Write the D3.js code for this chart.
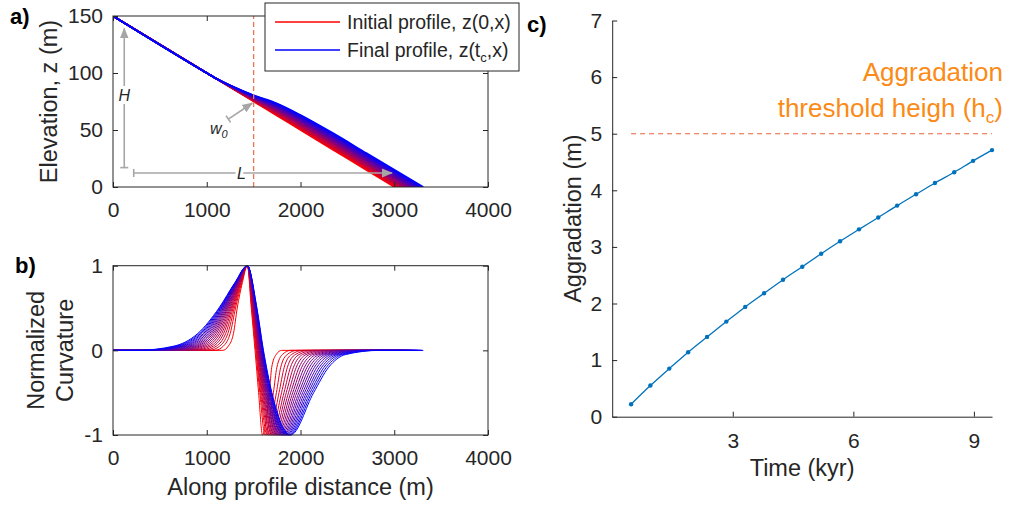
<!DOCTYPE html>
<html>
<head>
<meta charset="utf-8">
<script src="https://cdn.jsdelivr.net/npm/d3@7"></script>
<style>
  body { margin: 0; background: #fff; }
  svg { display: block; font-family: "Liberation Sans", Arial, Helvetica, sans-serif; }
</style>
</head>
<body>
<svg id="fig" width="1009" height="507"></svg>
<script>
// ---- a) elevation profiles, red (initial) -> blue (final)
const profX = [0, 1000, 1100, 1283, 1500, 1750, 2000, 2350, 2706];
const profZ = [
  [150, 100, 95.00, 85.85, 75.00, 62.50, 50.00, 32.50, 14.70],
  [150, 100, 95.01, 85.96, 75.28, 63.04, 50.66, 33.23, 15.45],
  [150, 100, 95.02, 86.07, 75.55, 63.58, 51.32, 33.96, 16.19],
  [150, 100, 95.03, 86.17, 75.83, 64.12, 51.98, 34.69, 16.94],
  [150, 100, 95.04, 86.28, 76.10, 64.66, 52.64, 35.42, 17.68],
  [150, 100, 95.05, 86.39, 76.38, 65.20, 53.30, 36.15, 18.43],
  [150, 100, 95.06, 86.50, 76.65, 65.74, 53.96, 36.88, 19.17],
  [150, 100, 95.07, 86.60, 76.93, 66.28, 54.62, 37.61, 19.92],
  [150, 100, 95.08, 86.71, 77.20, 66.82, 55.28, 38.34, 20.66],
  [150, 100, 95.09, 86.82, 77.48, 67.36, 55.94, 39.07, 21.41],
  [150, 100, 95.10, 86.93, 77.75, 67.90, 56.60, 39.80, 22.15],
  [150, 100, 95.11, 87.03, 78.03, 68.44, 57.26, 40.53, 22.90],
  [150, 100, 95.12, 87.14, 78.30, 68.98, 57.92, 41.26, 23.64],
  [150, 100, 95.13, 87.25, 78.58, 69.52, 58.58, 41.99, 24.39],
  [150, 100, 95.14, 87.36, 78.85, 70.06, 59.24, 42.72, 25.13],
  [150, 100, 95.15, 87.46, 79.13, 70.60, 59.90, 43.45, 25.88],
  [150, 100, 95.16, 87.57, 79.40, 71.14, 60.56, 44.18, 26.62],
  [150, 100, 95.17, 87.68, 79.68, 71.68, 61.22, 44.91, 27.37],
  [150, 100, 95.18, 87.79, 79.95, 72.22, 61.88, 45.64, 28.11],
  [150, 100, 95.19, 87.89, 80.23, 72.76, 62.54, 46.37, 28.86],
  [150, 100, 95.20, 88.00, 80.50, 73.30, 63.20, 47.10, 29.60]
];
const profEnd = [3000, 3016, 3031, 3047, 3062, 3078, 3093, 3109, 3124, 3140, 3155,
                 3171, 3186, 3202, 3217, 3233, 3248, 3264, 3279, 3295, 3310];

// ---- b) normalized curvature: x where each curve passes each level
const curvLevels = [0, 0, 0.05, 0.2, 0.5, 0.8, 1, 0.5, 0, -0.5, -1, -0.5, -0.2, -0.05, 0, 0];
const curvX = [
  [0, 1170, 1230, 1285, 1325, 1380, 1433, 1475, 1515, 1553, 1595, 1668, 1693, 1740, 1800, 3000],
  [0, 1086, 1177, 1250, 1307, 1373, 1433, 1480, 1523, 1566, 1622, 1711, 1748, 1807, 1896, 3028],
  [0, 1024, 1138, 1225, 1294, 1367, 1433, 1485, 1529, 1575, 1643, 1743, 1789, 1857, 1966, 3049],
  [0,  968, 1103, 1202, 1282, 1362, 1433, 1488, 1535, 1584, 1661, 1771, 1826, 1902, 2030, 3068],
  [0,  916, 1070, 1180, 1271, 1358, 1433, 1492, 1540, 1592, 1678, 1798, 1860, 1944, 2090, 3086],
  [0,  867, 1039, 1160, 1261, 1354, 1433, 1495, 1545, 1600, 1694, 1824, 1893, 1984, 2146, 3102],
  [0,  819, 1009, 1140, 1251, 1350, 1433, 1498, 1549, 1607, 1710, 1848, 1925, 2022, 2201, 3118],
  [0,  773,  980, 1121, 1241, 1345, 1433, 1501, 1554, 1614, 1724, 1872, 1955, 2059, 2253, 3134],
  [0,  728,  951, 1102, 1231, 1342, 1433, 1504, 1558, 1621, 1739, 1895, 1985, 2095, 2304, 3149],
  [0,  684,  924, 1084, 1222, 1338, 1433, 1507, 1562, 1628, 1753, 1917, 2013, 2131, 2354, 3164],
  [0,  642,  897, 1067, 1213, 1334, 1433, 1509, 1567, 1635, 1767, 1939, 2042, 2165, 2403, 3178],
  [0,  600,  870, 1050, 1204, 1330, 1433, 1512, 1571, 1641, 1781, 1960, 2069, 2199, 2451, 3192],
  [0,  559,  845, 1033, 1195, 1327, 1433, 1515, 1575, 1647, 1794, 1982, 2096, 2232, 2498, 3206],
  [0,  518,  819, 1016, 1187, 1323, 1433, 1517, 1579, 1654, 1808, 2002, 2123, 2264, 2544, 3220],
  [0,  478,  794,  999, 1178, 1320, 1433, 1520, 1583, 1660, 1820, 2023, 2149, 2296, 2589, 3233],
  [0,  439,  769,  983, 1170, 1316, 1433, 1523, 1586, 1666, 1833, 2043, 2175, 2328, 2634, 3246],
  [0,  400,  745,  967, 1162, 1313, 1433, 1525, 1590, 1672, 1846, 2063, 2201, 2359, 2678, 3259],
  [0,  362,  721,  951, 1154, 1310, 1433, 1528, 1594, 1678, 1858, 2082, 2226, 2390, 2722, 3272],
  [0,  324,  697,  936, 1146, 1306, 1433, 1530, 1598, 1683, 1871, 2102, 2251, 2420, 2765, 3285],
  [0,  287,  673,  920, 1138, 1303, 1433, 1533, 1601, 1689, 1883, 2121, 2276, 2450, 2808, 3298],
  [0,  250,  650,  905, 1130, 1300, 1433, 1535, 1605, 1695, 1895, 2140, 2300, 2480, 2850, 3310]
];

// ---- c) aggradation through time
const cTime = [0.47, 0.95, 1.42, 1.89, 2.36, 2.84, 3.31, 3.78, 4.25, 4.73,
               5.20, 5.67, 6.14, 6.62, 7.09, 7.56, 8.03, 8.51, 8.98, 9.45];
const cAgg = [0.22, 0.55, 0.85, 1.14, 1.41, 1.68, 1.94, 2.18, 2.42, 2.65,
              2.88, 3.10, 3.31, 3.52, 3.73, 3.93, 4.13, 4.32, 4.52, 4.71];
const hc = 5;

const xTicksAB = [0, 1000, 2000, 3000, 4000];
const zTicks = [0, 50, 100, 150];
const curvTicks = [-1, 0, 1];
const cTimeTicks = [3, 6, 9];
const cAggTicks = [0, 1, 2, 3, 4, 5, 6, 7];

const ink = "#262626";
const gray = "#a6a6a6";
const tickFont = 21;
const labelFont = 23.5;
const plain = d => String(d);

const svg = d3.select("#fig");
const defs = svg.append("defs");
defs.append("marker")
  .attr("id", "ahead")
  .attr("viewBox", "0 0 10 10")
  .attr("refX", 9).attr("refY", 5)
  .attr("markerWidth", 11).attr("markerHeight", 11)
  .attr("markerUnits", "userSpaceOnUse")
  .attr("orient", "auto")
  .append("path").attr("d", "M0,1 L10,5 L0,9 Z").attr("fill", gray);

const curveColor = (k, n) => d3.interpolateRgb("#ff0000", "#0000ff")(k / (n - 1));

// shared x scale for a) and b)
const x = d3.scaleLinear().domain([0, 4000]).range([113, 488]);
const yA = d3.scaleLinear().domain([0, 150]).range([187, 16]);
const yB = d3.scaleLinear().domain([-1, 1]).range([435, 265.7]);

function boxAxes(g, xs, ys, xt, yt) {
  const [x0, x1] = xs.range();
  const [y0, y1] = ys.range();
  g.append("g").attr("transform", `translate(0,${y0})`)
    .call(d3.axisBottom(xs).tickValues(xt).tickFormat(plain).tickSize(-5).tickPadding(15))
    .call(a => a.select(".domain").remove());
  g.append("g").attr("transform", `translate(0,${y1})`)
    .call(d3.axisTop(xs).tickValues(xt).tickSize(-5).tickFormat(""))
    .call(a => a.select(".domain").remove());
  g.append("g").attr("transform", `translate(${x0},0)`)
    .call(d3.axisLeft(ys).tickValues(yt).tickFormat(plain).tickSize(-5).tickPadding(10))
    .call(a => a.select(".domain").remove());
  g.append("g").attr("transform", `translate(${x1},0)`)
    .call(d3.axisRight(ys).tickValues(yt).tickSize(-5).tickFormat(""))
    .call(a => a.select(".domain").remove());
  g.append("rect")
    .attr("x", x0).attr("y", y1).attr("width", x1 - x0).attr("height", y0 - y1)
    .attr("fill", "none").attr("stroke", ink).attr("stroke-width", 1);
  g.selectAll(".tick line").attr("stroke", ink);
  g.selectAll(".tick text").attr("fill", ink).attr("font-size", tickFont);
}

function arrow(g, p1, p2) {
  const dx = p2[0] - p1[0], dy = p2[1] - p1[1];
  const len = Math.hypot(dx, dy);
  const nx = -dy / len * 4, ny = dx / len * 4;
  g.append("line")
    .attr("x1", p1[0]).attr("y1", p1[1]).attr("x2", p2[0]).attr("y2", p2[1])
    .attr("stroke", gray).attr("stroke-width", 1.6)
    .attr("marker-end", "url(#ahead)");
  g.append("line")
    .attr("x1", p1[0] - nx).attr("y1", p1[1] - ny)
    .attr("x2", p1[0] + nx).attr("y2", p1[1] + ny)
    .attr("stroke", gray).attr("stroke-width", 1.6);
}

// ================= a)
const gA = svg.append("g");
defs.append("clipPath").attr("id", "clipA").append("rect")
  .attr("x", 113).attr("y", 16).attr("width", 375).attr("height", 171);

const lineA = d3.line().x(d => x(d[0])).y(d => yA(d[1])).curve(d3.curveMonotoneX);
gA.append("g").attr("clip-path", "url(#clipA)")
  .selectAll("path")
  .data(profZ.map((zs, k) => profX.map((v, i) => [v, zs[i]]).concat([[profEnd[k], 0]])))
  .join("path")
  .attr("d", lineA)
  .attr("fill", "none")
  .attr("stroke", (d, k) => curveColor(k, profZ.length))
  .attr("stroke-width", 1.6);

// dashed reference at x = 1500
gA.append("line")
  .attr("x1", x(1500)).attr("x2", x(1500)).attr("y1", yA(0)).attr("y2", yA(150))
  .attr("stroke", "#ee7650").attr("stroke-width", 1.3).attr("stroke-dasharray", "5,3");

// annotations
const gAnn = gA.append("g");
arrow(gAnn, [x(120), yA(17)], [x(120), yA(139)]);
arrow(gAnn, [x(221), yA(12.3)], [x(2975), yA(12.3)]);
arrow(gAnn, [x(1230), yA(59.6)], [x(1485), yA(73.5)]);
const annText = (tx, ty, s) => gAnn.append("text")
  .attr("x", tx).attr("y", ty).attr("text-anchor", "middle").attr("dy", "0.35em")
  .attr("font-style", "italic").attr("font-size", 16).attr("fill", ink)
  .attr("stroke", "#fff").attr("stroke-width", 6).attr("paint-order", "stroke")
  .text(s);
annText(x(120), yA(80), "H");
annText(x(1370), yA(12.3), "L");
const w0 = gAnn.append("text")
  .attr("x", x(1035)).attr("y", yA(51)).attr("dy", "0.35em")
  .attr("font-style", "italic").attr("font-size", 16).attr("fill", ink);
w0.append("tspan").text("w");
w0.append("tspan").attr("font-size", 11).attr("dy", 4).text("0");

boxAxes(gA, x, yA, xTicksAB, zTicks);
gA.append("text")
  .attr("transform", `translate(49,${(yA(0) + yA(150)) / 2}) rotate(-90)`)
  .attr("text-anchor", "middle").attr("dy", "0.35em")
  .attr("font-size", labelFont).attr("fill", ink)
  .text("Elevation, z (m)");

// legend
const gL = svg.append("g");
gL.append("rect").attr("x", 265).attr("y", 3).attr("width", 254).attr("height", 68)
  .attr("fill", "#fff").attr("stroke", ink).attr("stroke-width", 1);
const legendRows = [
  { color: "#ff0000", y: 22, parts: [["Initial profile, z(0,x)", 0]] },
  { color: "#0000ff", y: 50, parts: [["Final profile, z(t", 0], ["c", 1], [",x)", 0]] }
];
legendRows.forEach(r => {
  gL.append("line").attr("x1", 275).attr("x2", 340).attr("y1", r.y).attr("y2", r.y)
    .style("stroke", r.color).style("stroke-width", "1.4px");
  const t = gL.append("text").attr("x", 347).attr("y", r.y).attr("dy", "0.35em")
    .attr("font-size", 19.5).attr("fill", ink);
  let sub = 0;
  r.parts.forEach(([s, isSub]) => {
    const ts = t.append("tspan").text(s);
    if (isSub) { ts.attr("font-size", 13).attr("dy", 5); sub = 1; }
    else if (sub) { ts.attr("dy", -5); sub = 0; }
  });
});

// ================= b)
const gB = svg.append("g");
const lineB = d3.line().x(d => x(d[0])).y(d => yB(d[1])).curve(d3.curveMonotoneX);
gB.append("g")
  .selectAll("path")
  .data(curvX.map(xs => xs.map((v, i) => [v, curvLevels[i]])))
  .join("path")
  .attr("d", lineB)
  .attr("fill", "none")
  .attr("stroke", (d, k) => curveColor(k, curvX.length))
  .attr("stroke-width", 1);

boxAxes(gB, x, yB, xTicksAB, curvTicks);
const yBLabel = gB.append("text")
  .attr("transform", `translate(49,${(yB(-1) + yB(1)) / 2}) rotate(-90)`)
  .attr("text-anchor", "middle")
  .attr("font-size", labelFont).attr("fill", ink);
yBLabel.append("tspan").attr("x", 0).attr("dy", "-0.2em").text("Normalized");
yBLabel.append("tspan").attr("x", 0).attr("dy", "1.2em").text("Curvature");
gB.append("text")
  .attr("x", (x(0) + x(4000)) / 2).attr("y", 495)
  .attr("text-anchor", "middle")
  .attr("font-size", labelFont).attr("fill", ink)
  .text("Along profile distance (m)");

// ================= c)
const gC = svg.append("g");
const xC = d3.scaleLinear().domain([0, 9.45]).range([612.2, 992]);
const yC = d3.scaleLinear().domain([0, 7]).range([416.7, 20.5]);

gC.append("g").attr("transform", `translate(0,${yC(0)})`)
  .call(d3.axisBottom(xC).tickValues(cTimeTicks).tickFormat(plain)
    .tickSize(-5).tickPadding(16).tickSizeOuter(0));
gC.append("g").attr("transform", `translate(${xC(0)},0)`)
  .call(d3.axisLeft(yC).tickValues(cAggTicks).tickFormat(plain)
    .tickSize(-5).tickPadding(10).tickSizeOuter(0));
gC.selectAll(".domain, .tick line").attr("stroke", ink);
gC.selectAll(".tick text").attr("fill", ink).attr("font-size", tickFont);

gC.append("line")
  .attr("x1", xC(d3.min(cTime))).attr("x2", xC(d3.max(cTime)))
  .attr("y1", yC(hc)).attr("y2", yC(hc))
  .attr("stroke", "#e8603c").attr("stroke-width", 1.1).attr("stroke-dasharray", "5,4");

const series = cTime.map((t, i) => [t, cAgg[i]]);
gC.append("path")
  .datum(series)
  .attr("d", d3.line().x(d => xC(d[0])).y(d => yC(d[1])).curve(d3.curveMonotoneX))
  .attr("fill", "none").attr("stroke", "#0072bd").attr("stroke-width", 1.3);
gC.append("g").selectAll("circle").data(series).join("circle")
  .attr("cx", d => xC(d[0])).attr("cy", d => yC(d[1])).attr("r", 2.2)
  .attr("fill", "#0072bd");

const orange = "#fb8a16";
gC.append("text").attr("x", 1003).attr("y", 81).attr("text-anchor", "end")
  .attr("font-size", 26).attr("fill", orange).text("Aggradation");
const thr = gC.append("text").attr("x", 1003).attr("y", 117).attr("text-anchor", "end")
  .attr("font-size", 26).attr("fill", orange);
thr.append("tspan").text("threshold heigh (h");
thr.append("tspan").attr("font-size", 17).attr("dy", 6).text("c");
thr.append("tspan").attr("dy", -6).text(")");

gC.append("text")
  .attr("transform", `translate(573,${(yC(0) + yC(7)) / 2}) rotate(-90)`)
  .attr("text-anchor", "middle").attr("dy", "0.35em")
  .attr("font-size", labelFont).attr("fill", ink)
  .text("Aggradation (m)");
gC.append("text")
  .attr("x", (xC(0) + xC(9.45)) / 2).attr("y", 476)
  .attr("text-anchor", "middle")
  .attr("font-size", labelFont).attr("fill", ink)
  .text("Time (kyr)");

// panel letters
[["a)", 10, 24], ["b)", 15, 273], ["c)", 527, 32]].forEach(([s, px, py]) =>
  svg.append("text").attr("x", px).attr("y", py)
    .attr("font-size", 22).attr("font-weight", "bold").attr("fill", "#000").text(s));
</script>
</body>
</html>
